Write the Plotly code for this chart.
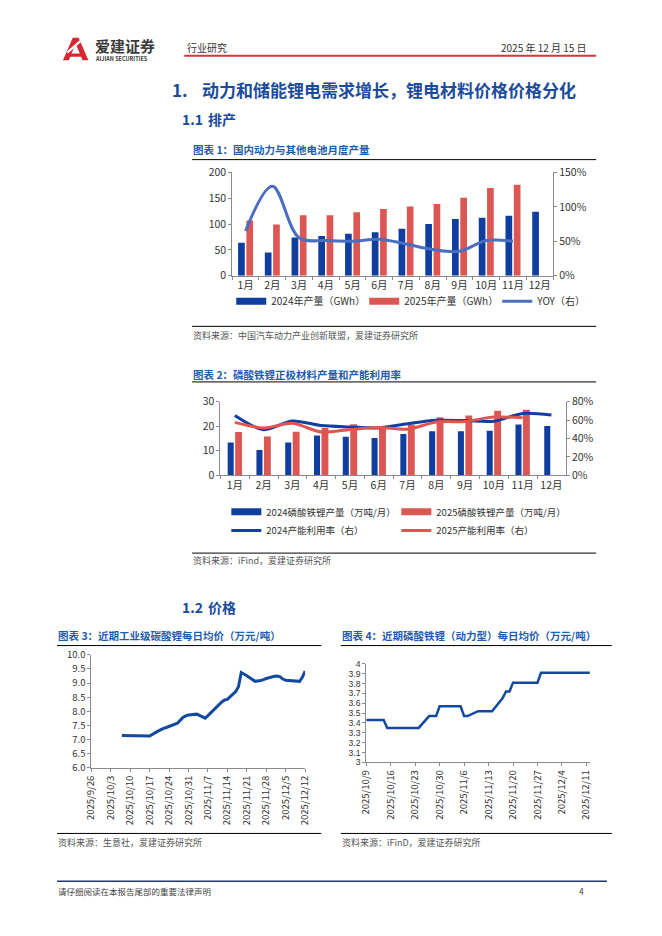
import plotly.graph_objects as go

# page is 662x936; the browser keeps an 8px body margin, so the figure is 646x920
PAGE_OFF = 8
W, H = 646, 920


def X(p):
    return (p - PAGE_OFF) / W


def Y(p):
    return 1 - (p - PAGE_OFF) / H


# ---------------- data ----------------
months = ["1月", "2月", "3月", "4月", "5月", "6月", "7月", "8月", "9月", "10月", "11月", "12月"]

battery_2024 = [64, 45, 74, 77, 81, 84, 91, 100, 110, 112, 116, 124]
battery_2025 = [107, 99, 117, 117, 123, 129, 134, 139, 151, 170, 176]
battery_yoy = [0.65, 1.30, 0.55, 0.51, 0.50, 0.53, 0.46, 0.38, 0.355, 0.51, 0.50]

lfp_2024 = [13.4, 10.3, 13.4, 16.2, 15.7, 15.2, 16.8, 17.9, 17.9, 18.1, 20.7, 20.1]
lfp_2025 = [17.6, 15.8, 17.7, 19.3, 20.8, 19.8, 20.7, 23.6, 24.4, 26.3, 26.7]
util_2024 = [0.65, 0.495, 0.59, 0.54, 0.525, 0.515, 0.56, 0.597, 0.594, 0.587, 0.672, 0.655]
util_2025 = [0.575, 0.515, 0.565, 0.47, 0.497, 0.52, 0.50, 0.578, 0.585, 0.632, 0.625]

li2co3_dates = [
    "2025-10-07", "2025-10-08", "2025-10-09", "2025-10-10",
    "2025-10-13", "2025-10-14", "2025-10-15", "2025-10-16", "2025-10-17",
    "2025-10-20", "2025-10-21", "2025-10-22", "2025-10-23", "2025-10-24",
    "2025-10-27", "2025-10-28", "2025-10-29", "2025-10-30", "2025-10-31",
    "2025-11-03", "2025-11-04", "2025-11-05", "2025-11-06", "2025-11-07",
    "2025-11-10", "2025-11-11", "2025-11-12", "2025-11-13", "2025-11-14",
    "2025-11-17", "2025-11-18", "2025-11-19", "2025-11-20", "2025-11-21",
    "2025-11-24", "2025-11-25", "2025-11-26", "2025-11-27", "2025-11-28",
    "2025-12-01", "2025-12-02", "2025-12-03", "2025-12-04", "2025-12-05",
    "2025-12-08", "2025-12-09", "2025-12-10", "2025-12-11", "2025-12-12",
]
li2co3_price = [
    7.15, 7.15, 7.15, 7.15,
    7.14, 7.14, 7.13, 7.13, 7.13,
    7.30, 7.36, 7.40, 7.43, 7.47,
    7.58, 7.68, 7.78, 7.84, 7.87,
    7.90, 7.86, 7.82, 7.76, 7.85,
    8.15, 8.25, 8.33, 8.40, 8.42,
    8.70, 8.87, 9.37, 9.32, 9.26,
    9.06, 9.07, 9.09, 9.12, 9.16,
    9.24, 9.25, 9.22, 9.14, 9.10,
    9.09, 9.08, 9.06, 9.20, 9.42,
]

lfp_dates = [
    "2025-10-09", "2025-10-10",
    "2025-10-13", "2025-10-14", "2025-10-15", "2025-10-16", "2025-10-17",
    "2025-10-20", "2025-10-21", "2025-10-22", "2025-10-23", "2025-10-24",
    "2025-10-27", "2025-10-28", "2025-10-29", "2025-10-30", "2025-10-31",
    "2025-11-03", "2025-11-04", "2025-11-05", "2025-11-06", "2025-11-07",
    "2025-11-10", "2025-11-11", "2025-11-12", "2025-11-13", "2025-11-14",
    "2025-11-17", "2025-11-18", "2025-11-19", "2025-11-20", "2025-11-21",
    "2025-11-24", "2025-11-25", "2025-11-26", "2025-11-27", "2025-11-28",
    "2025-12-01", "2025-12-02", "2025-12-03", "2025-12-04", "2025-12-05",
    "2025-12-08", "2025-12-09", "2025-12-10", "2025-12-11", "2025-12-12",
]
lfp_price = [
    3.43, 3.43,
    3.43, 3.43, 3.35, 3.35, 3.35,
    3.35, 3.35, 3.35, 3.35, 3.35,
    3.47, 3.47, 3.47, 3.57, 3.57,
    3.57, 3.57, 3.57, 3.47, 3.47,
    3.52, 3.52, 3.52, 3.52, 3.52,
    3.65, 3.72, 3.72, 3.81, 3.81,
    3.81, 3.81, 3.81, 3.81, 3.91,
    3.91, 3.91, 3.91, 3.91, 3.91,
    3.91, 3.91, 3.91, 3.91, 3.91,
]

# ---------------- styles ----------------
FONT = "Noto Sans CJK SC, Noto Sans, sans-serif"
NUM_FONT = "Liberation Sans, Arial, sans-serif"
BAR_BLUE = "#0F3E9E"
BAR_RED = "#DC5753"
YOY_BLUE = "#4A6EC0"
LINE_BLUE = "#123F9F"
LINE_RED = "#E0554F"
PRICE_BLUE = "#124A9F"
AX = "#8A8A8A"
TXT = "#333333"
HEAD = "#1B4C9B"
TITLE = "#1F5DAD"
SRC = "#555555"

fig = go.Figure()

# ---------- chart 1 ----------
fig.add_trace(go.Bar(x=months, y=battery_2024, marker=dict(color=BAR_BLUE, line=dict(width=0)),
                     offset=-0.28, width=0.25, xaxis="x", yaxis="y", showlegend=False,
                     legendgroup="b24", name="2024年产量（GWh）"))
fig.add_trace(go.Bar(x=months[:len(battery_2025)], y=battery_2025,
                     marker=dict(color=BAR_RED, line=dict(width=0)),
                     offset=0.03, width=0.25, xaxis="x", yaxis="y", showlegend=False,
                     legendgroup="b25", name="2025年产量（GWh）"))
fig.add_trace(go.Scatter(x=[None], y=[None], mode="lines", line=dict(color=BAR_BLUE, width=7),
                         name="2024年产量（GWh）", legendgroup="b24", legend="legend",
                         xaxis="x", yaxis="y"))
fig.add_trace(go.Scatter(x=[None], y=[None], mode="lines", line=dict(color=BAR_RED, width=7),
                         name="2025年产量（GWh）", legendgroup="b25", legend="legend",
                         xaxis="x", yaxis="y"))
fig.add_trace(go.Scatter(x=months[:len(battery_yoy)], y=battery_yoy, mode="lines",
                         line=dict(color=YOY_BLUE, width=3, shape="spline", smoothing=1.0),
                         name="YOY（右）", legend="legend", xaxis="x", yaxis="y2"))

# ---------- chart 2 ----------
fig.add_trace(go.Bar(x=months, y=lfp_2024, marker=dict(color=BAR_BLUE, line=dict(width=0)),
                     offset=-0.25, width=0.21, xaxis="x2", yaxis="y3", showlegend=False,
                     legendgroup="l24"))
fig.add_trace(go.Bar(x=months[:len(lfp_2025)], y=lfp_2025, marker=dict(color=BAR_RED, line=dict(width=0)),
                     offset=0.01, width=0.24, xaxis="x2", yaxis="y3", showlegend=False,
                     legendgroup="l25"))
fig.add_trace(go.Scatter(x=[None], y=[None], mode="lines", line=dict(color=BAR_BLUE, width=7),
                         name="2024磷酸铁锂产量（万吨/月）", legendgroup="l24", legend="legend2",
                         xaxis="x2", yaxis="y3"))
fig.add_trace(go.Scatter(x=[None], y=[None], mode="lines", line=dict(color=BAR_RED, width=7),
                         name="2025磷酸铁锂产量（万吨/月）", legendgroup="l25", legend="legend2",
                         xaxis="x2", yaxis="y3"))
fig.add_trace(go.Scatter(x=months, y=util_2024, mode="lines",
                         line=dict(color=LINE_BLUE, width=3, shape="spline", smoothing=0.8),
                         name="2024产能利用率（右）", legend="legend3", xaxis="x2", yaxis="y4"))
fig.add_trace(go.Scatter(x=months[:len(util_2025)], y=util_2025, mode="lines",
                         line=dict(color=LINE_RED, width=3, shape="spline", smoothing=0.8),
                         name="2025产能利用率（右）", legend="legend3", xaxis="x2", yaxis="y4"))

# ---------- chart 3 ----------
fig.add_trace(go.Scatter(x=li2co3_dates, y=li2co3_price, mode="lines",
                         line=dict(color=PRICE_BLUE, width=3), showlegend=False,
                         name="工业级碳酸锂", xaxis="x3", yaxis="y5"))

# ---------- chart 4 ----------
fig.add_trace(go.Scatter(x=lfp_dates, y=lfp_price, mode="lines",
                         line=dict(color=PRICE_BLUE, width=2.5), showlegend=False,
                         name="磷酸铁锂（动力型）", xaxis="x4", yaxis="y6"))

axis_common = dict(showline=True, linecolor=AX, linewidth=1, ticks="outside", ticklen=3,
                   tickcolor=AX, tickwidth=1, showgrid=False, zeroline=False,
                   tickfont=dict(size=10.5, color=TXT, family=FONT), fixedrange=True)

small_axis = dict(axis_common)
small_axis["tickfont"] = dict(size=9.5, color=TXT, family=FONT)
tiny_axis = dict(axis_common)
tiny_axis["tickfont"] = dict(size=8.6, color=TXT, family=NUM_FONT)

WEEK = 7 * 24 * 3600 * 1000

legend_style = dict(orientation="h", xanchor="left", yanchor="middle",
                    bgcolor="rgba(0,0,0,0)", itemclick=False, itemdoubleclick=False)

fig.update_layout(
    width=W, height=H, margin=dict(l=0, r=0, t=0, b=0),
    paper_bgcolor="white", plot_bgcolor="white",
    font=dict(family=FONT, color=TXT),
    barmode="overlay",
    xaxis=dict(axis_common, domain=[X(229), X(557)], anchor="y", type="category",
               range=[-0.5, 11.5], tickson="boundaries", tickangle=0),
    yaxis=dict(axis_common, domain=[Y(272), Y(167)], anchor="x", range=[0, 200], dtick=50),
    yaxis2=dict(axis_common, overlaying="y", side="right", anchor="x", range=[0, 1.5],
                dtick=0.5, tickformat=".0%"),
    xaxis2=dict(axis_common, domain=[X(217), X(570)], anchor="y3", type="category",
                range=[-0.5, 11.5], tickson="boundaries", tickangle=0),
    yaxis3=dict(axis_common, domain=[Y(475), Y(400)], anchor="x2", range=[0, 30], dtick=10),
    yaxis4=dict(axis_common, overlaying="y3", side="right", anchor="x2", range=[0, 0.8],
                dtick=0.2, tickformat=".0%"),
    xaxis3=dict(small_axis, domain=[X(85), X(303.5)], anchor="y5", type="date",
                range=["2025-09-26", "2025-12-12"], tick0="2025-09-26", dtick=WEEK,
                tickformat="%Y/%-m/%-d", tickangle=-90),
    yaxis5=dict(small_axis, domain=[Y(772.4), Y(657.3)], anchor="x3", range=[6, 10],
                dtick=0.5, tickformat=".1f"),
    xaxis4=dict(small_axis, domain=[X(366), X(594.6)], anchor="y6", type="date",
                range=["2025-10-09", "2025-12-12"], tick0="2025-10-09", dtick=WEEK,
                tickformat="%Y/%-m/%-d", tickangle=-90),
    yaxis6=dict(tiny_axis, domain=[Y(766.7), Y(666.7)], anchor="x4", range=[3, 4], dtick=0.1),
    legend=dict(legend_style, x=X(228), y=Y(298), entrywidth=88,
                font=dict(size=10, color=TXT, family=FONT)),
    legend2=dict(legend_style, x=X(223), y=Y(512), entrywidth=125,
                 font=dict(size=9.5, color=TXT, family=FONT)),
    legend3=dict(legend_style, x=X(223), y=Y(531), entrywidth=125,
                 font=dict(size=9.5, color=TXT, family=FONT)),
)

# ---------------- page text ----------------
annotations = []


def text(x, y, s, size, color=TXT, bold=False, anchor="left"):
    if bold:
        s = "<b>" + s + "</b>"
    annotations.append(dict(x=X(x), y=Y(y), xref="paper", yref="paper", text=s,
                            showarrow=False, xanchor=anchor, yanchor="middle",
                            font=dict(size=size, color=color, family=FONT)))


# header
text(87, 38, "爱建证券", 15, "#3A3A3A", bold=True)
text(87, 51.5, "AIJIAN SECURITIES", 5.5, "#3A3A3A", bold=True)
text(181, 40, "行业研究", 10, TXT)
text(594, 40, "2025 年 12 月 15 日", 10, TXT, anchor="right")

# headings
text(165, 83, "1.", 17, HEAD, bold=True)
text(196, 83, "动力和储能锂电需求增长，锂电材料价格价格分化", 17, HEAD, bold=True)
text(176, 113, "1.1", 14, HEAD, bold=True)
text(202, 113, "排产", 14, HEAD, bold=True)
text(176, 609, "1.2", 14, HEAD, bold=True)
text(202, 609, "价格", 14, HEAD, bold=True)

# chart titles
text(187, 144, "图表 1：国内动力与其他电池月度产量", 10.5, TITLE, bold=True)
text(187, 372, "图表 2：磷酸铁锂正极材料产量和产能利用率", 10.5, TITLE, bold=True)
text(49, 638, "图表 3：近期工业级碳酸锂每日均价（万元/吨）", 10.5, TITLE, bold=True)
text(339, 638, "图表 4：近期磷酸铁锂（动力型）每日均价（万元/吨）", 10.5, TITLE, bold=True)

# sources
text(187, 333, "资料来源：中国汽车动力产业创新联盟，爱建证券研究所", 9, SRC)
text(187, 562, "资料来源：iFind，爱建证券研究所", 9, SRC)
text(49, 848, "资料来源：生意社，爱建证券研究所", 9, SRC)
text(339, 848, "资料来源：iFinD，爱建证券研究所", 9, SRC)

# footer
text(49, 897, "请仔细阅读在本报告尾部的重要法律声明", 8.5, "#444444")
text(591, 897, "4", 8.5, "#444444", anchor="right")

fig.update_layout(annotations=annotations)

# ---------------- rules & logo ----------------
shapes = []


def hline(x0, x1, y, color="#000000", width=1):
    shapes.append(dict(type="line", xref="paper", yref="paper", x0=X(x0), x1=X(x1),
                       y0=Y(y), y1=Y(y), line=dict(color=color, width=width)))


hline(180, 601, 48.5, "#D23A3A", 2)
hline(188, 601, 154)
hline(188, 601, 323.5)
hline(188, 601, 380)
hline(188, 601, 554)
hline(50, 320, 648)
hline(340, 617, 648)
hline(50, 320, 839)
hline(340, 617, 839)
hline(50, 612, 887.5, "#1F3A6E", 1.5)


def path(points):
    return "M " + " L ".join(f"{X(a):.5f},{Y(b):.5f}" for a, b in points) + " Z"


# stylised red "A" logo
shapes.append(dict(type="path", xref="paper", yref="paper",
                   path=path([(56, 53), (66, 30), (72, 30), (82, 53), (76, 53), (69, 36), (62, 53)]),
                   fillcolor="#D7282F", line=dict(width=0)))
shapes.append(dict(type="path", xref="paper", yref="paper",
                   path=path([(61, 46), (77, 46), (78.5, 49.5), (59.5, 49.5)]),
                   fillcolor="#D7282F", line=dict(width=0)))
shapes.append(dict(type="path", xref="paper", yref="paper",
                   path=path([(60, 44), (74, 32), (75, 34), (61, 46)]),
                   fillcolor="white", line=dict(width=0)))

fig.update_layout(shapes=shapes)

fig.write_html("out.html", config={"displayModeBar": False})
